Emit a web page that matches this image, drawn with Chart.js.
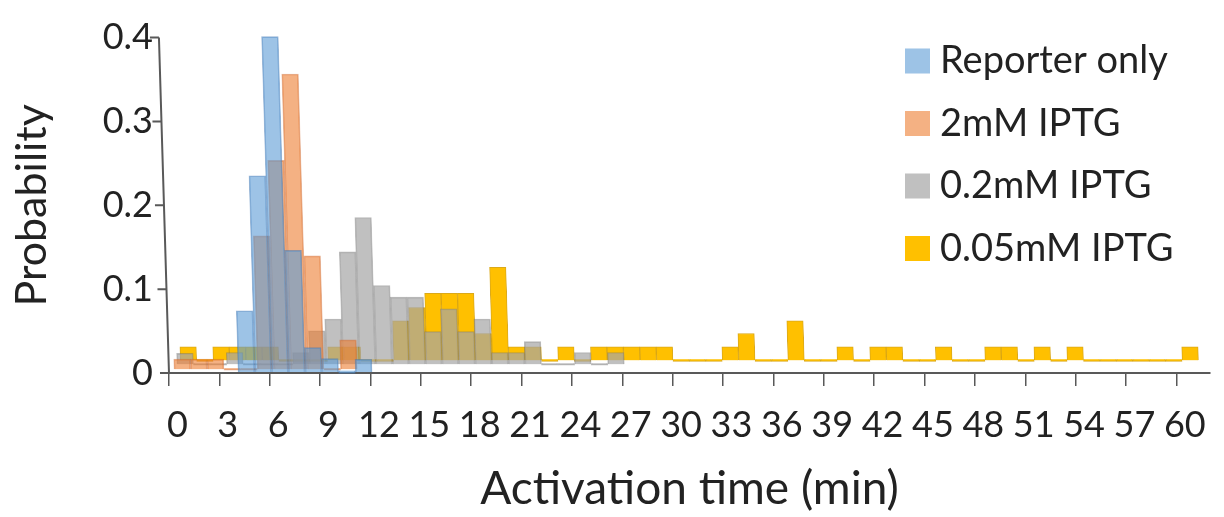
<!DOCTYPE html>
<html>
<head>
<meta charset="utf-8">
<title>Activation time</title>
<script src="https://cdn.jsdelivr.net/npm/chart.js@4.4.0/dist/chart.umd.min.js"></script>
<style>
  html, body { margin: 0; padding: 0; background: #fff; }
  #wrap { width: 1224px; height: 517px; }
</style>
</head>
<body>
<div id="wrap"><canvas id="chart" width="1224" height="517"></canvas></div>
<script>
// one bin per minute
const minutes = [0, 1, 2, 3, 4, 5, 6, 7, 8, 9, 10, 11, 12, 13, 14, 15, 16, 17, 18, 19, 20,
  21, 22, 23, 24, 25, 26, 27, 28, 29, 30, 31, 32, 33, 34, 35, 36, 37, 38, 39, 40,
  41, 42, 43, 44, 45, 46, 47, 48, 49, 50, 51, 52, 53, 54, 55, 56, 57, 58, 59, 60, 61];
const xTickLabels = [0, 3, 6, 9, 12, 15, 18, 21, 24, 27, 30, 33, 36, 39, 42, 45, 48, 51, 54, 57, 60];
const yTickValues = [0, 0.1, 0.2, 0.3, 0.4];

const seriesNames = ['Reporter only', '2mM IPTG', '0.2mM IPTG', '0.05mM IPTG'];

// probabilities per bin (null = no bar)
const reporterOnly = [null, null, null, null, 0.073, 0.234, 0.400, 0.145, 0.029, 0.016, 0, 0.015];
const iptg2mM = [0.012, 0.012, 0.012, 0, 0, 0.159, 0.249, 0.352, 0.135, 0, 0.035];
const iptg02mM = [0.013, 0, 0, 0.014, 0, 0, 0, 0.014, 0.040, 0.054, 0.134, 0.175, 0.094, 0.080,
  0.080, 0.039, 0.066, 0.039, 0.054, 0.014, 0.014, 0.027, 0, 0, 0.014, 0, 0.014];
const iptg005mM = [0.016, 0, 0.016, 0.016, 0.016, 0.016, 0, 0, 0, 0.016, 0.016, 0, 0, 0.047,
  0.063, 0.080, 0.080, 0.080, 0.032, 0.111, 0.016, 0.016, 0, 0.016, 0, 0.016, 0.016, 0.016,
  0.016, 0.016, 0, 0, 0, 0.016, 0.032, 0, 0, 0.047, 0, 0, 0.016, 0, 0.016, 0.016, 0, 0,
  0.016, 0, 0, 0.016, 0.016, 0, 0.016, 0, 0.016, 0, 0, 0, 0, 0, 0, 0.016];

const fills = ['rgba(91,155,213,0.6)', 'rgba(237,125,49,0.6)', 'rgba(165,165,165,0.7)', '#FFC000'];
const edges = ['rgba(65,120,180,0.55)', 'rgba(205,100,40,0.5)', 'rgba(120,120,120,0.5)', 'rgba(215,160,0,0.9)'];

// each series sits a bit deeper in the old 3D chart: own axis ranges give the shift
const depth = [
  { id: 'Blue', x: [-0.625, 61.52], y: [-0.0012, 0.3988], minBar: 3 },
  { id: 'Orange', x: [-0.808, 61.71], y: [-0.0046, 0.3954], minBar: 2 },
  { id: 'Gray', x: [-0.993, 61.83], y: [-0.0104, 0.3896], minBar: 2 },
  { id: 'Yellow', x: [-1.209, 62.18], y: [-0.0151, 0.3849], minBar: 2 }
];
const seriesData = [reporterOnly, iptg2mM, iptg02mM, iptg005mM];

const lean = 0.03; // bars and value axis lean left going up
const axisColor = '#595959';
const textColor = '#222';
const fontFamily = 'Lato, "Open Sans", sans-serif';

Chart.defaults.font.family = fontFamily;
Chart.defaults.color = textColor;

const datasets = seriesNames.map((name, i) => ({
  label: name,
  data: seriesData[i],
  xAxisID: 'x' + depth[i].id,
  yAxisID: 'y' + depth[i].id,
  backgroundColor: fills[i],
  borderColor: edges[i],
  borderWidth: 1,
  barPercentage: 1,
  categoryPercentage: 1,
  grouped: false,
  minBarLength: depth[i].minBar,
  order: i,
  clip: false
}));

const scales = {
  x: {
    type: 'linear',
    position: 'bottom',
    min: -0.5,
    max: 61.5,
    offset: false,
    afterBuildTicks: (axis) => {
      axis.ticks = [];
      xTickLabels.forEach(v => {
        axis.ticks.push({ value: v - 0.5 });
        axis.ticks.push({ value: v });
      });
    },
    afterFit: (axis) => { axis.height = 144; },
    ticks: {
      autoSkip: false,
      maxRotation: 0,
      padding: 18,
      font: { size: 36 },
      color: textColor,
      callback: (value) => xTickLabels.includes(value) ? String(value) : ''
    },
    grid: {
      offset: false,
      drawOnChartArea: false,
      drawTicks: true,
      tickLength: 13,
      lineWidth: 1.5,
      color: (c) => (c.tick && xTickLabels.includes(c.tick.value)) ? 'rgba(0,0,0,0)' : axisColor
    },
    border: { display: true, color: axisColor, width: 2 },
    title: {
      display: true,
      text: 'Activation time (min)',
      font: { size: 46 },
      color: textColor,
      padding: { top: 0, bottom: 0 }
    }
  },
  y: {
    type: 'linear',
    position: 'left',
    min: 0,
    max: 0.4,
    afterBuildTicks: (axis) => { axis.ticks = yTickValues.map(v => ({ value: v })); },
    afterFit: (axis) => { axis.width = 169; },
    ticks: {
      padding: 16,
      font: { size: 36 },
      color: textColor,
      callback: (value) => String(value)
    },
    grid: { display: false, drawTicks: false },
    border: { display: false },
    title: {
      display: true,
      text: 'Probability',
      font: { size: 43 },
      color: textColor,
      padding: { top: 6, bottom: 0 }
    }
  }
};

depth.forEach(d => {
  scales['x' + d.id] = {
    type: 'linear', position: 'bottom', display: false, offset: false,
    min: d.x[0], max: d.x[1],
    grid: { offset: false },
    afterBuildTicks: (axis) => { axis.ticks = []; }
  };
  scales['y' + d.id] = {
    type: 'linear', position: 'left', display: false,
    min: d.y[0], max: d.y[1]
  };
});

// lean the bars, draw the value axis with the same lean, and the legend
const lookPlugin = {
  id: 'look',
  beforeDatasetsDraw(chart) {
    const ctx = chart.ctx;
    ctx.save();
    ctx.transform(1, 0, lean, 1, -lean * chart.chartArea.bottom, 0);
  },
  afterDatasetsDraw(chart) {
    const ctx = chart.ctx;
    const yScale = chart.scales.y;
    const x0 = chart.chartArea.left;
    ctx.strokeStyle = axisColor;
    ctx.lineWidth = 2;
    ctx.beginPath();
    ctx.moveTo(x0, yScale.bottom + 1);
    ctx.lineTo(x0, yScale.top);
    yTickValues.forEach(v => {
      const py = yScale.getPixelForValue(v);
      ctx.moveTo(x0 - 9, py);
      ctx.lineTo(x0, py);
    });
    ctx.stroke();
    ctx.restore();
  },
  afterDraw(chart) {
    const ctx = chart.ctx;
    ctx.save();
    ctx.font = '38px ' + fontFamily;
    ctx.textBaseline = 'middle';
    chart.data.datasets.forEach((ds, i) => {
      const cy = 61 + i * 62.5;
      ctx.fillStyle = ds.backgroundColor;
      ctx.fillRect(905, cy - 12.5, 25, 25);
      ctx.fillStyle = textColor;
      ctx.fillText(ds.label, 940, cy);
    });
    ctx.restore();
  }
};

new Chart(document.getElementById('chart').getContext('2d'), {
  type: 'bar',
  data: { labels: minutes, datasets: datasets },
  options: {
    responsive: false,
    animation: false,
    layout: { padding: { top: 28, right: 11, bottom: 0, left: 0 } },
    plugins: {
      legend: { display: false },
      tooltip: { enabled: false }
    },
    scales: scales
  },
  plugins: [lookPlugin]
});
</script>
</body>
</html>
